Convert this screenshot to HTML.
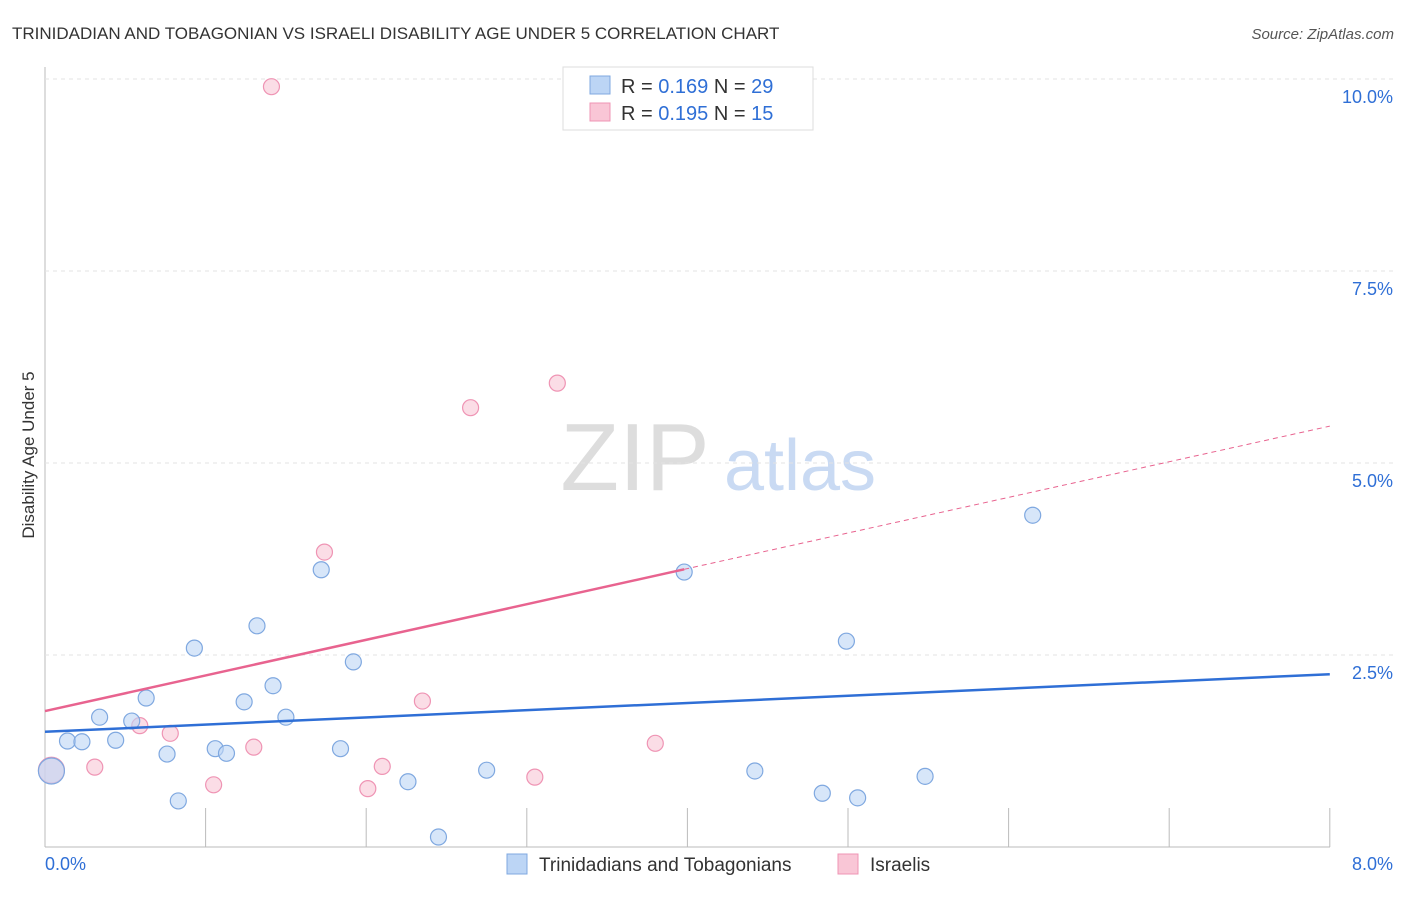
<!DOCTYPE html>
<html><head><meta charset="utf-8"><style>
body{margin:0;background:#fff;font-family:"Liberation Sans",sans-serif}
svg text{font-family:"Liberation Sans",sans-serif}
</style></head><body>
<svg id="c" width="1406" height="892" xmlns="http://www.w3.org/2000/svg">
<text x="12" y="39" font-size="17" fill="#333">TRINIDADIAN AND TOBAGONIAN VS ISRAELI DISABILITY AGE UNDER 5 CORRELATION CHART</text>
<text x="1394" y="39" font-size="15" fill="#555" font-style="italic" text-anchor="end">Source: ZipAtlas.com</text>
<text x="635" y="490" font-size="96" fill="#ddd" font-family="Liberation Serif" text-anchor="middle">ZIP</text>
<text x="800" y="490" font-size="72" fill="#c9daf3" text-anchor="middle">atlas</text>
<text transform="translate(34,455) rotate(-90)" font-size="17" fill="#333" text-anchor="middle">Disability Age Under 5</text>
<g id="grid"></g><g id="marks"></g>
<g>
<rect x="563" y="67" width="250" height="63" fill="#fff" stroke="#ddd"/>
<rect x="590" y="76" width="20" height="18" fill="#bcd5f5" stroke="#7fa8e0"/>
<text x="621" y="93" font-size="20" fill="#333">R = <tspan fill="#2f6fd6">0.169</tspan>   N = <tspan fill="#2f6fd6">29</tspan></text>
<rect x="590" y="103" width="20" height="18" fill="#f9c6d6" stroke="#ef94b4"/>
<text x="621" y="120" font-size="20" fill="#333">R = <tspan fill="#2f6fd6">0.195</tspan>   N = <tspan fill="#2f6fd6"> 15</tspan></text>
</g>
<g>
<rect x="507" y="854" width="20" height="20" fill="#bcd5f5" stroke="#7fa8e0"/>
<text x="539" y="871" font-size="19" fill="#333">Trinidadians and Tobagonians</text>
<rect x="838" y="854" width="20" height="20" fill="#f9c6d6" stroke="#ef94b4"/>
<text x="870" y="871" font-size="19" fill="#333">Israelis</text>
</g>
</svg>
<script>
const xTicks=[0,1,2,3,4,5,6,7,8];
const yTicks=[2.5,5,7.5,10];
const blueX=[0.04,0.14,0.23,0.34,0.44,0.54,0.63,0.76,0.83,0.93,1.06,1.13,1.24,1.32,1.42,1.50,1.72,1.84,1.92,2.26,2.45,2.75,3.98,4.42,4.84,4.99,5.06,5.48,6.15];
const blueY=[0.99,1.38,1.37,1.69,1.39,1.64,1.94,1.21,0.60,2.59,1.28,1.22,1.89,2.88,2.10,1.69,3.61,1.28,2.41,0.85,0.13,1.00,3.58,0.99,0.70,2.68,0.64,0.92,4.32];
const pinkX=[1.41,0.04,0.31,0.59,0.78,1.05,1.30,1.74,2.01,2.10,2.35,2.65,3.05,3.19,3.80];
const pinkY=[9.90,1.00,1.04,1.58,1.48,0.81,1.30,3.84,0.76,1.05,1.90,5.72,0.91,6.04,1.35];
const blueTrend=[1.50,2.25];
const pinkTrend=[1.77,5.48];
const pinkSolidEnd=3.98;
const sx=v=>45+v*160.6, sy=v=>847-v*76.8;
const NS="http://www.w3.org/2000/svg";
function mk(p,t,a){const e=document.createElementNS(NS,t);for(const k in a)e.setAttribute(k,a[k]);p.appendChild(e);return e;}
const g=document.getElementById('grid'), m=document.getElementById('marks');
let l=mk(g,'line',{x1:45,y1:67,x2:45,y2:847,stroke:'#bbb'});


l=mk(g,'line',{x1:45,y1:847,x2:1330,y2:847,stroke:'#bbb'});


yTicks.forEach(v=>{const e=mk(g,'line',{x1:45,y1:sy(v),x2:1394,y2:sy(v),stroke:'#e3e3e3','stroke-dasharray':'4,4'});


const t=mk(g,'text',{x:1393,y:sy(v)+24,'font-size':18,fill:'#2f6fd6','text-anchor':'end'});t.textContent=v.toFixed(1)+'%';

});
xTicks.forEach(v=>{if(v>0){const e=mk(g,'line',{x1:sx(v),y1:808,x2:sx(v),y2:847,stroke:'#bbb'});

}});
[[0,'0.0%','start',45],[8,'8.0%','end',1393]].forEach(([v,s,a,x])=>{const t=mk(g,'text',{x:x,y:870,'font-size':18,fill:'#2f6fd6','text-anchor':a});t.textContent=s;

});
function pts(X,Y,fill,stroke,name){X.forEach((x,i)=>{const r=(i===(name==='blue-point'?0:1)&&x<0.1)?13:8;
const c=mk(m,'circle',{cx:sx(x),cy:sy(Y[i]),r:r,fill:fill,'fill-opacity':0.6,stroke:stroke,'stroke-width':1.2});

});}
pts(pinkX,pinkY,'#f9c6d6','#ef94b4','pink-point');
pts(blueX,blueY,'#bcd5f5','#7fa8e0','blue-point');
const pk=x=>pinkTrend[0]+(pinkTrend[1]-pinkTrend[0])*x/8;
let t1=mk(m,'line',{x1:sx(0),y1:sy(blueTrend[0]),x2:sx(8),y2:sy(blueTrend[1]),stroke:'#2f6fd6','stroke-width':2.5});


let t2=mk(m,'line',{x1:sx(0),y1:sy(pk(0)),x2:sx(pinkSolidEnd),y2:sy(pk(pinkSolidEnd)),stroke:'#e8638f','stroke-width':2.5});


let t3=mk(m,'line',{x1:sx(pinkSolidEnd),y1:sy(pk(pinkSolidEnd)),x2:sx(8),y2:sy(pk(8)),stroke:'#e8638f','stroke-width':1,'stroke-dasharray':'5,4'});


</script>
</body></html>
